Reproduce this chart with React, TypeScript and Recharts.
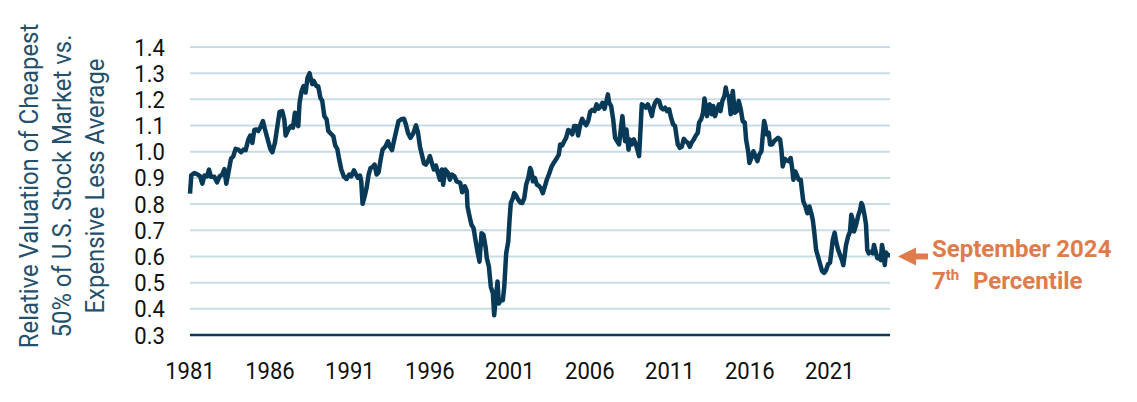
import { CartesianGrid, Customized, Line, LineChart, ReferenceDot, XAxis, YAxis } from "recharts";

// [decimal year, relative valuation], roughly every 1-2 months
const era1981to1989: [number, number][] = [
  [1981.0, 0.84], [1981.08, 0.91], [1981.27, 0.919], [1981.48, 0.913], [1981.63, 0.906], [1981.77, 0.878],
  [1981.9, 0.909], [1982.06, 0.906], [1982.19, 0.932], [1982.31, 0.904], [1982.52, 0.904], [1982.69, 0.883],
  [1982.85, 0.906], [1983.02, 0.913], [1983.15, 0.934], [1983.27, 0.878], [1983.4, 0.919], [1983.56, 0.973],
  [1983.71, 0.983], [1983.85, 1.011], [1984.02, 1.008], [1984.19, 0.998], [1984.35, 1.008], [1984.48, 1.006],
  [1984.65, 1.047], [1984.77, 1.062], [1984.9, 1.034], [1985.02, 1.083], [1985.15, 1.085], [1985.27, 1.079],
  [1985.44, 1.098], [1985.56, 1.117], [1985.69, 1.085], [1985.85, 1.049], [1986.02, 1.011], [1986.15, 0.998],
  [1986.31, 1.034], [1986.48, 1.104], [1986.6, 1.152], [1986.77, 1.155], [1986.9, 1.121], [1986.98, 1.062],
  [1987.15, 1.085], [1987.31, 1.098], [1987.44, 1.092], [1987.56, 1.149], [1987.65, 1.111], [1987.77, 1.098],
  [1987.85, 1.187], [1987.98, 1.232], [1988.1, 1.251], [1988.23, 1.226], [1988.35, 1.283], [1988.48, 1.3],
  [1988.56, 1.277], [1988.65, 1.258], [1988.73, 1.271], [1988.9, 1.251], [1989.02, 1.249], [1989.15, 1.207],
  [1989.27, 1.194], [1989.4, 1.136],
];

const era1989to1997: [number, number][] = [
  [1989.54, 1.124], [1989.65, 1.079], [1989.79, 1.07], [1989.96, 1.06], [1990.08, 1.024], [1990.21, 1.011],
  [1990.33, 0.97], [1990.46, 0.932], [1990.63, 0.904], [1990.79, 0.896], [1990.96, 0.913], [1991.08, 0.906],
  [1991.25, 0.929], [1991.38, 0.913], [1991.5, 0.9], [1991.63, 0.909], [1991.71, 0.887], [1991.79, 0.801],
  [1991.92, 0.829], [1992.04, 0.861], [1992.17, 0.913], [1992.29, 0.938], [1992.42, 0.942], [1992.54, 0.951],
  [1992.67, 0.913], [1992.79, 0.921], [1992.92, 0.97], [1993.04, 1.008], [1993.21, 1.019], [1993.38, 1.04],
  [1993.5, 1.019], [1993.63, 1.006], [1993.75, 1.04], [1993.88, 1.075], [1994.04, 1.117], [1994.21, 1.124],
  [1994.38, 1.126], [1994.5, 1.104], [1994.63, 1.072], [1994.79, 1.053], [1994.96, 1.07], [1995.13, 1.101],
  [1995.25, 1.075], [1995.38, 1.019], [1995.5, 0.989], [1995.63, 0.955], [1995.75, 0.951], [1995.88, 0.964],
  [1996.0, 0.983], [1996.13, 0.955], [1996.25, 0.932], [1996.38, 0.947], [1996.5, 0.919], [1996.63, 0.893],
  [1996.75, 0.932], [1996.83, 0.874], [1996.96, 0.932], [1997.13, 0.919], [1997.25, 0.893], [1997.38, 0.913],
  [1997.54, 0.906], [1997.67, 0.887],
];

const era1997to2006: [number, number][] = [
  [1997.9, 0.881], [1998.02, 0.845], [1998.19, 0.868], [1998.31, 0.849], [1998.35, 0.791], [1998.48, 0.753],
  [1998.6, 0.721], [1998.73, 0.708], [1998.85, 0.663], [1998.98, 0.618], [1999.1, 0.58], [1999.23, 0.689],
  [1999.35, 0.682], [1999.48, 0.637], [1999.56, 0.593], [1999.69, 0.561], [1999.81, 0.484], [1999.94, 0.459],
  [2000.02, 0.375], [2000.15, 0.459], [2000.23, 0.504], [2000.31, 0.42], [2000.44, 0.433], [2000.56, 0.433],
  [2000.65, 0.484], [2000.77, 0.612], [2000.9, 0.657], [2000.98, 0.74], [2001.06, 0.804], [2001.19, 0.823],
  [2001.27, 0.842], [2001.4, 0.832], [2001.52, 0.817], [2001.65, 0.806], [2001.77, 0.804], [2001.9, 0.823],
  [2002.02, 0.874], [2002.15, 0.9], [2002.27, 0.938], [2002.35, 0.925], [2002.44, 0.887], [2002.56, 0.9],
  [2002.69, 0.874], [2002.81, 0.87], [2002.94, 0.861], [2003.06, 0.842], [2003.19, 0.868], [2003.31, 0.893],
  [2003.44, 0.913], [2003.6, 0.942], [2003.77, 0.96], [2003.94, 0.976], [2004.06, 0.989], [2004.15, 1.028],
  [2004.27, 1.024], [2004.4, 1.04], [2004.52, 1.053], [2004.65, 1.083], [2004.77, 1.079], [2004.9, 1.066],
  [2005.02, 1.098], [2005.15, 1.098], [2005.27, 1.062], [2005.4, 1.104], [2005.52, 1.126], [2005.65, 1.111],
  [2005.77, 1.101], [2005.9, 1.117], [2006.02, 1.152], [2006.15, 1.16],
];

const era2006to2014: [number, number][] = [
  [2006.29, 1.155], [2006.42, 1.181], [2006.54, 1.164], [2006.67, 1.172], [2006.79, 1.187], [2006.92, 1.164],
  [2007.04, 1.194], [2007.13, 1.219], [2007.21, 1.187], [2007.33, 1.175], [2007.46, 1.124], [2007.58, 1.053],
  [2007.71, 1.04], [2007.83, 1.028], [2007.96, 1.098], [2008.04, 1.136], [2008.13, 1.072], [2008.21, 1.04],
  [2008.29, 1.085], [2008.42, 1.008], [2008.5, 1.047], [2008.63, 1.028], [2008.75, 1.047], [2008.88, 1.028],
  [2009.0, 1.002], [2009.08, 0.983], [2009.17, 1.085], [2009.25, 1.181], [2009.38, 1.175], [2009.5, 1.168],
  [2009.63, 1.181], [2009.75, 1.162], [2009.88, 1.136], [2009.96, 1.164], [2010.08, 1.187], [2010.21, 1.198],
  [2010.33, 1.194], [2010.46, 1.168], [2010.58, 1.162], [2010.71, 1.168], [2010.83, 1.155], [2010.96, 1.162],
  [2011.08, 1.13], [2011.21, 1.104], [2011.33, 1.098], [2011.42, 1.06], [2011.5, 1.028], [2011.63, 1.015],
  [2011.75, 1.019], [2011.88, 1.049], [2012.0, 1.04], [2012.13, 1.034], [2012.25, 1.019], [2012.38, 1.036],
  [2012.5, 1.047], [2012.63, 1.062], [2012.75, 1.072], [2012.83, 1.111], [2012.96, 1.124], [2013.08, 1.149],
  [2013.17, 1.203], [2013.25, 1.175], [2013.33, 1.136], [2013.42, 1.168], [2013.5, 1.181], [2013.63, 1.143],
  [2013.71, 1.175], [2013.83, 1.136], [2013.96, 1.162], [2014.08, 1.181], [2014.17, 1.155], [2014.29, 1.194],
  [2014.42, 1.213], [2014.5, 1.245], [2014.58, 1.219],
];

const era2014to2024: [number, number][] = [
  [2014.69, 1.213], [2014.81, 1.143], [2014.94, 1.232], [2015.06, 1.149], [2015.19, 1.155], [2015.31, 1.194],
  [2015.44, 1.162], [2015.56, 1.117], [2015.69, 1.111], [2015.77, 1.047], [2015.9, 1.002], [2015.98, 0.957],
  [2016.1, 0.976], [2016.23, 1.002], [2016.35, 0.983], [2016.48, 0.964], [2016.6, 0.989], [2016.73, 1.002],
  [2016.81, 1.06], [2016.9, 1.117], [2016.98, 1.098], [2017.06, 1.066], [2017.19, 1.072], [2017.27, 1.028],
  [2017.4, 1.028], [2017.52, 1.04], [2017.65, 1.047], [2017.77, 1.053], [2017.9, 1.047], [2017.98, 1.008],
  [2018.06, 0.944], [2018.19, 0.973], [2018.31, 0.967], [2018.44, 0.964], [2018.56, 0.976], [2018.65, 0.938],
  [2018.73, 0.893], [2018.85, 0.925], [2018.98, 0.906], [2019.06, 0.893], [2019.19, 0.893], [2019.27, 0.849],
  [2019.35, 0.81], [2019.48, 0.791], [2019.6, 0.765], [2019.73, 0.791], [2019.85, 0.765], [2019.94, 0.74],
  [2020.02, 0.701], [2020.15, 0.625], [2020.27, 0.599], [2020.4, 0.571], [2020.52, 0.545], [2020.65, 0.537],
  [2020.77, 0.547], [2020.9, 0.571], [2021.02, 0.576], [2021.1, 0.615], [2021.19, 0.663], [2021.31, 0.691],
  [2021.4, 0.657], [2021.52, 0.627], [2021.65, 0.605], [2021.77, 0.586], [2021.85, 0.567], [2021.94, 0.605],
  [2022.02, 0.644], [2022.15, 0.676], [2022.27, 0.695], [2022.35, 0.759], [2022.44, 0.74], [2022.52, 0.695],
  [2022.65, 0.721], [2022.77, 0.753], [2022.9, 0.778], [2022.98, 0.804], [2023.06, 0.794], [2023.19, 0.753],
  [2023.27, 0.721], [2023.35, 0.625], [2023.44, 0.612], [2023.56, 0.618], [2023.69, 0.612], [2023.77, 0.644],
  [2023.9, 0.612], [2023.98, 0.593], [2024.1, 0.599], [2024.19, 0.586], [2024.27, 0.644], [2024.35, 0.618],
  [2024.44, 0.567], [2024.52, 0.615], [2024.65, 0.605], [2024.77, 0.605],
];

const yearTicks = [1981, 1986, 1991, 1996, 2001, 2006, 2011, 2016, 2021];
const valueTicks = [0.3, 0.4, 0.5, 0.6, 0.7, 0.8, 0.9, 1.0, 1.1, 1.2, 1.3, 1.4];
const titleLines = ["Relative Valuation of Cheapest", "50% of U.S. Stock Market vs.", "Expensive Less Average"];
const latest = era2014to2024[era2014to2024.length - 1];

const data = [...era1981to1989, ...era1989to1997, ...era1997to2006, ...era2006to2014, ...era2014to2024].map(
  ([t, v]) => ({ t, v })
);

const NAVY = "#083a57";
const ORANGE = "#e07b4b";
const FONT = "Roboto, 'Noto Sans', sans-serif";

function XTick({ x, y, payload }: any) {
  return (
    <text transform={`translate(${x},${y + 44}) scale(0.92,1)`} textAnchor="middle" fontFamily={FONT} fontSize={24} fill="#111">
      {payload.value}
    </text>
  );
}

function YTick({ x, y, payload }: any) {
  return (
    <text transform={`translate(${x},${y + 8.5}) scale(0.92,1)`} textAnchor="end" fontFamily={FONT} fontSize={24} fill="#111">
      {Number(payload.value).toFixed(1)}
    </text>
  );
}

function AxisTitle() {
  return (
    <g>
      {titleLines.map((line, i) => (
        <text
          key={line}
          transform={`translate(${30 + i * 33},178) rotate(-90) scale(0.92,1)`}
          textAnchor="middle"
          fontFamily={FONT}
          fontSize={26}
          fill="#24506b"
        >
          {line}
        </text>
      ))}
    </g>
  );
}

function Callout({ cx, cy }: any) {
  return (
    <g>
      <polygon points={`${cx + 8},${cy} ${cx + 26},${cy - 9} ${cx + 26},${cy + 9}`} fill={ORANGE} />
      <rect x={cx + 25} y={cy - 3} width={13} height={6} fill={ORANGE} />
      <text x={cx + 42} y={cy + 1} fontFamily={FONT} fontWeight={700} fontSize={24} fill={ORANGE}>
        September 2024
      </text>
      <text x={cx + 42} y={cy + 33} fontFamily={FONT} fontWeight={700} fontSize={24} fill={ORANGE}>
        <tspan>7</tspan>
        <tspan fontSize={15} dy={-9}>th</tspan>
        <tspan x={cx + 83} dy={9}>Percentile</tspan>
      </text>
    </g>
  );
}

export default function App() {
  return (
    <LineChart width={1129} height={394} data={data} margin={{ top: 39, right: 247, bottom: 27, left: 122 }}>
      <CartesianGrid horizontal vertical={false} stroke="#c8dce6" strokeWidth={2} />
      <XAxis
        dataKey="t"
        type="number"
        domain={[1981, latest[0]]}
        ticks={yearTicks}
        tick={<XTick />}
        tickLine={false}
        tickSize={0}
        tickMargin={0}
        height={40}
        axisLine={{ stroke: NAVY, strokeWidth: 2.5 }}
      />
      <YAxis
        type="number"
        domain={[0.3, 1.4]}
        ticks={valueTicks}
        tick={<YTick />}
        tickLine={false}
        tickSize={0}
        tickMargin={25}
        axisLine={false}
        width={60}
      />
      <Line
        type="linear"
        dataKey="v"
        stroke={NAVY}
        strokeWidth={4.5}
        strokeLinejoin="round"
        dot={false}
        activeDot={false}
        isAnimationActive={false}
      />
      <ReferenceDot x={latest[0]} y={0.6} ifOverflow="visible" shape={(p: any) => <Callout {...p} />} />
      <Customized component={AxisTitle} />
    </LineChart>
  );
}
